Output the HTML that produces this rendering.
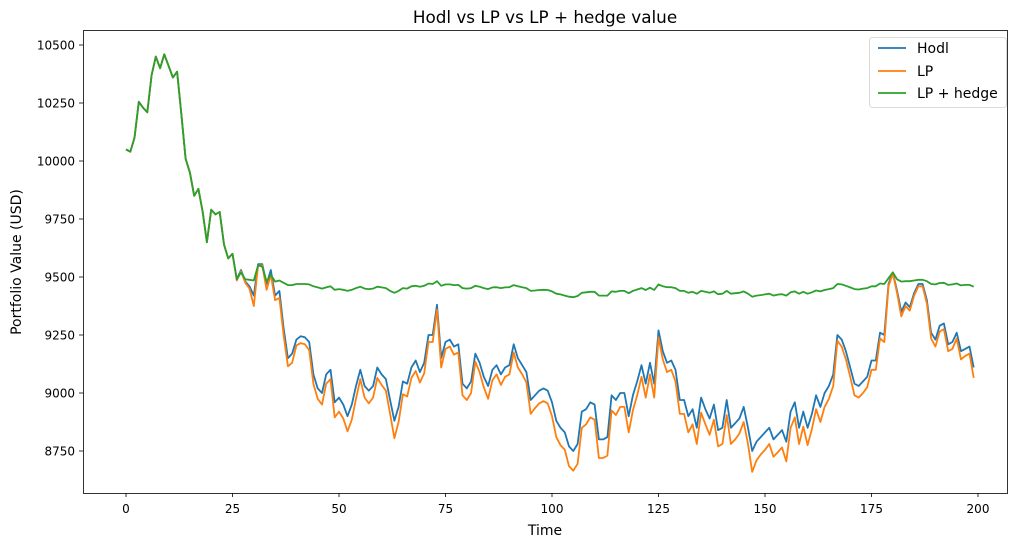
<!DOCTYPE html>
<html><head><meta charset="utf-8"><style>
body{margin:0;background:#fff;font-family:"Liberation Sans","DejaVu Sans",sans-serif}
</style></head><body>
<svg id="chart" width="1023" height="547" xmlns="http://www.w3.org/2000/svg" font-family="DejaVu Sans, Liberation Sans, sans-serif">
<rect width="1023" height="547" fill="#fff"/>
<text x="545" y="23" font-size="16.8" text-anchor="middle">Hodl vs LP vs LP + hedge value</text>
<text x="545" y="535" font-size="14" text-anchor="middle">Time</text>
<text transform="translate(21,262) rotate(-90)" font-size="14" text-anchor="middle">Portfolio Value (USD)</text>
<g id="ticks"></g>
<g id="series"></g>
<rect x="83.5" y="30.5" width="924" height="463" fill="none" stroke="#000" stroke-width="0.8"/>
<g>
<rect x="869.5" y="37.5" width="137" height="70" rx="3" fill="#fff" stroke="#ccc" stroke-width="0.8" opacity="0.9"/>
<line x1="878" y1="48" x2="906" y2="48" stroke="#1f77b4" stroke-width="1.8"/>
<text x="917" y="53" font-size="14">Hodl</text>
<line x1="878" y1="71" x2="906" y2="71" stroke="#ff7f0e" stroke-width="1.8"/>
<text x="917" y="76" font-size="14">LP</text>
<line x1="878" y1="93" x2="906" y2="93" stroke="#2ca02c" stroke-width="1.8"/>
<text x="917" y="98" font-size="14">LP + hedge</text>
</g>
</svg>
<script>
const xTicks=[0,25,50,75,100,125,150,175,200];
const yTicks=[8750,9000,9250,9500,9750,10000,10250,10500];
const early=[10050,10040,10100,10255,10230,10210,10370,10450,10400,10460,10410,10360,10385,10200,10010,9950,9850,9880,9780,9650,9790,9770,9780,9640,9580,9600];
const hodl=early.concat([9490,9530,9480,9460,9420,9555,9555,9470,9530,9420,9440,9280,9150,9170,9230,9245,9240,9220,9080,9020,9000,9080,9100,8960,8980,8950,8900,8950,9030,9100,9030,9010,9030,9110,9080,9060,8970,8880,8940,9050,9040,9110,9140,9090,9130,9250,9250,9380,9150,9220,9230,9200,9210,9040,9020,9050,9170,9130,9070,9030,9100,9120,9080,9110,9120,9210,9150,9120,9090,8970,8990,9010,9020,9010,8960,8880,8850,8830,8770,8750,8780,8920,8930,8960,8950,8800,8800,8810,8990,8970,9000,9000,8900,8990,9050,9120,9040,9130,9040,9270,9180,9130,9140,9100,8970,8970,8900,8930,8850,8980,8930,8890,8950,8840,8850,8970,8850,8870,8890,8940,8850,8750,8790,8810,8830,8850,8800,8820,8840,8790,8920,8960,8850,8920,8850,8910,8990,8940,9000,9030,9080,9250,9230,9180,9110,9040,9030,9050,9070,9140,9140,9260,9250,9470,9520,9440,9350,9390,9370,9430,9470,9470,9400,9260,9230,9290,9300,9210,9220,9260,9180,9190,9200,9110]);
const lp=early.concat([9485,9525,9475,9450,9375,9550,9550,9445,9510,9400,9410,9250,9115,9130,9205,9215,9210,9185,9040,8975,8950,9040,9060,8895,8920,8890,8835,8885,8975,9060,8980,8955,8980,9065,9035,9010,8910,8805,8875,8995,8985,9065,9095,9045,9085,9220,9220,9360,9110,9190,9200,9165,9175,8990,8970,9000,9135,9090,9025,8975,9055,9080,9035,9070,9080,9175,9110,9080,9045,8910,8935,8955,8965,8955,8900,8810,8775,8755,8685,8665,8695,8850,8865,8895,8885,8720,8720,8730,8925,8905,8940,8940,8830,8925,8990,9070,8980,9080,8980,9240,9145,9090,9100,9050,8910,8910,8830,8865,8780,8915,8865,8820,8885,8770,8780,8905,8780,8800,8825,8875,8780,8660,8710,8735,8755,8780,8725,8745,8765,8705,8850,8895,8780,8855,8775,8845,8930,8875,8940,8975,9030,9225,9200,9145,9070,8990,8980,9000,9025,9100,9100,9235,9220,9460,9515,9430,9330,9375,9355,9420,9460,9460,9385,9235,9200,9265,9275,9180,9190,9235,9145,9160,9170,9065]);
const hedge=early.concat([9490,9520,9490,9488,9485,9550,9545,9480,9510,9480,9485,9475,9465,9465,9470,9470,9470,9468,9460,9455,9450,9455,9460,9445,9448,9445,9440,9445,9452,9458,9450,9448,9450,9458,9455,9452,9440,9432,9440,9452,9450,9460,9462,9458,9462,9472,9470,9482,9462,9468,9468,9465,9466,9452,9450,9452,9462,9458,9452,9448,9455,9456,9452,9455,9456,9465,9460,9456,9452,9440,9442,9444,9445,9444,9438,9428,9425,9420,9415,9413,9418,9432,9434,9436,9436,9420,9420,9420,9438,9436,9440,9440,9430,9440,9446,9452,9444,9454,9444,9468,9460,9456,9456,9452,9440,9440,9432,9436,9428,9440,9436,9432,9438,9426,9428,9440,9428,9430,9432,9438,9428,9415,9420,9422,9425,9428,9420,9424,9426,9420,9434,9438,9428,9436,9428,9434,9442,9438,9444,9448,9452,9470,9468,9462,9455,9448,9446,9450,9452,9460,9460,9472,9470,9495,9520,9490,9480,9482,9482,9485,9488,9488,9482,9470,9468,9474,9475,9466,9468,9472,9464,9466,9466,9458]);
const NS='http://www.w3.org/2000/svg';
function xS(i){return 126+(978-126)*i/200;}
function yS(v){return 161+(10000-v)*(393-161)/1000;}
const tg=document.getElementById('ticks');
function mk(tag,attrs,parent){const e=document.createElementNS(NS,tag);for(const k in attrs)e.setAttribute(k,attrs[k]);parent.appendChild(e);return e;}
xTicks.forEach(t=>{
  const l=mk('line',{x1:xS(t),x2:xS(t),y1:493,y2:497,stroke:'#000','stroke-width':0.8},tg);
  
  
  const tx=mk('text',{x:xS(t),y:513,'font-size':12,'text-anchor':'middle'},tg);
  
  
  tx.textContent=t;
});
yTicks.forEach(t=>{
  const l=mk('line',{x1:79,x2:83,y1:yS(t),y2:yS(t),stroke:'#000','stroke-width':0.8},tg);
  
  
  const tx=mk('text',{x:75,y:yS(t)+4.5,'font-size':12,'text-anchor':'end'},tg);
  
  
  tx.textContent=t;
});
const sg=document.getElementById('series');
[[hodl,'#1f77b4','hodl-line'],[lp,'#ff7f0e','lp-line'],[hedge,'#2ca02c','lp-hedge-line']].forEach(([d,c,n])=>{
  const p=mk('polyline',{points:d.map((v,i)=>xS(i).toFixed(1)+','+yS(v).toFixed(1)).join(' '),fill:'none',stroke:c,'stroke-width':1.8,'stroke-linejoin':'round'},sg);
  
  
});
</script>
</body></html>
